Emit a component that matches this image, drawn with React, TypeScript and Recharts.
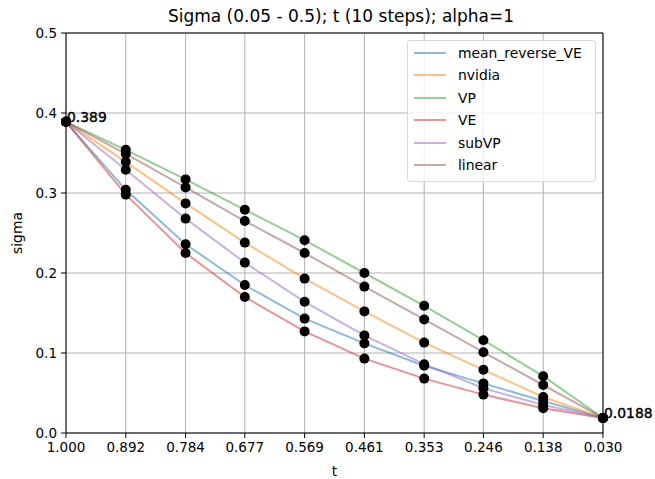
import React from 'react';
import {
  ComposedChart,
  Line,
  Scatter,
  XAxis,
  YAxis,
  CartesianGrid,
  Legend,
  LabelList,
  ReferenceLine,
} from 'recharts';

// time steps, left to right (axis runs from 1.0 down to 0.03)
const tValues = [1.0, 0.892, 0.784, 0.677, 0.569, 0.461, 0.353, 0.246, 0.138, 0.03];

const meanReverseVE = [0.389, 0.304, 0.236, 0.185, 0.143, 0.112, 0.084, 0.062, 0.040, 0.0188];
const nvidia = [0.389, 0.339, 0.287, 0.238, 0.193, 0.152, 0.113, 0.079, 0.045, 0.0188];
const vp = [0.389, 0.354, 0.317, 0.279, 0.241, 0.200, 0.159, 0.116, 0.071, 0.0188];
const ve = [0.389, 0.298, 0.225, 0.170, 0.127, 0.093, 0.068, 0.048, 0.031, 0.0188];
const subVP = [0.389, 0.329, 0.268, 0.213, 0.164, 0.122, 0.086, 0.056, 0.035, 0.0188];
const linear = [0.389, 0.349, 0.307, 0.265, 0.225, 0.183, 0.142, 0.101, 0.060, 0.0188];

const yTicks = [0, 0.1, 0.2, 0.3, 0.4, 0.5];

const series = [
  { key: 'mean_reverse_VE', values: meanReverseVE, color: '#1f77b4' },
  { key: 'nvidia', values: nvidia, color: '#ff7f0e' },
  { key: 'VP', values: vp, color: '#2ca02c' },
  { key: 'VE', values: ve, color: '#d62728' },
  { key: 'subVP', values: subVP, color: '#9467bd' },
  { key: 'linear', values: linear, color: '#8c564b' },
];

const data = tValues.map((t, i) => {
  const row: Record<string, number> = { t };
  series.forEach((s) => {
    row[s.key] = s.values[i];
  });
  return row;
});

const FONT = '"DejaVu Sans", sans-serif';

const blackDot = (props: any) => <circle cx={props.cx} cy={props.cy} r={5} fill="#000" />;

// only the first and last sigma get printed next to their point
const endLabel = (props: any) => {
  const { x, y, value, index } = props;
  if (index !== 0 && index !== tValues.length - 1) return null;
  return (
    <text x={x + 1} y={y} fontSize={13.9} fontFamily={FONT} fill="#000" stroke="#000" strokeWidth={0.4}>
      {String(value)}
    </text>
  );
};

const legendBox = () => (
  <div
    style={{
      position: 'relative',
      width: 187,
      height: 140,
      border: '1px solid #d8d8d8',
      borderRadius: 3,
      background: 'rgba(255,255,255,0.8)',
      fontFamily: FONT,
      fontSize: 13.9,
      color: '#000',
    }}
  >
    {series.map((s, i) => (
      <div
        key={s.key}
        style={{ position: 'absolute', top: 1 + i * 22.4, left: 0, height: 22, display: 'flex', alignItems: 'center' }}
      >
        <div style={{ marginLeft: 6, width: 32, height: 2, background: s.color, opacity: 0.5 }} />
        <span style={{ marginLeft: 12, whiteSpace: 'nowrap' }}>{s.key}</span>
      </div>
    ))}
  </div>
);

const sigmaLabel = (props: any) => {
  const vb = props.viewBox;
  const cy = vb.y + vb.height / 2;
  return (
    <text x={22} y={cy} transform={`rotate(-90, 22, ${cy})`} textAnchor="middle" fontSize={13.9} fontFamily={FONT} fill="#000">
      sigma
    </text>
  );
};

export default function App() {
  return (
    <div style={{ position: 'absolute', left: 0, top: 0, width: 655, height: 479, background: '#fff' }}>
      <div
        style={{
          position: 'absolute',
          left: 66,
          width: 550,
          top: 6,
          textAlign: 'center',
          fontFamily: FONT,
          fontSize: 17,
          color: '#000',
          lineHeight: '20px',
        }}
      >
        Sigma (0.05 - 0.5); t (10 steps); alpha=1
      </div>
      <ComposedChart width={655} height={479} data={data} margin={{ top: 33, right: 52, left: 0, bottom: 0 }}>
        <CartesianGrid stroke="#b0b0b0" strokeWidth={1} />
        <XAxis
          dataKey="t"
          type="number"
          domain={[0.03, 1]}
          reversed
          ticks={tValues}
          tickFormatter={(v: number) => v.toFixed(3)}
          height={46}
          stroke="#000"
          tickSize={5}
          tickMargin={4}
          tick={{ fill: '#000', fontSize: 13.5, fontFamily: FONT }}
          interval={0}
          label={{ value: 't', position: 'insideBottom', offset: 3, fill: '#000', fontSize: 13.9, fontFamily: FONT }}
        />
        <YAxis
          type="number"
          domain={[0, 0.5]}
          ticks={yTicks}
          tickFormatter={(v: number) => v.toFixed(1)}
          width={66}
          stroke="#000"
          tickSize={5}
          tickMargin={4}
          tick={{ fill: '#000', fontSize: 13.5, fontFamily: FONT }}
          interval={0}
          label={sigmaLabel}
        />
        <ReferenceLine y={0.5} stroke="#000" strokeWidth={1} ifOverflow="visible" />
        <ReferenceLine x={0.03} stroke="#000" strokeWidth={1} ifOverflow="visible" />
        {series.map((s) => (
          <Scatter key={`pts-${s.key}`} dataKey={s.key} shape={blackDot} isAnimationActive={false} legendType="none" />
        ))}
        {series.map((s) => (
          <Line
            key={s.key}
            dataKey={s.key}
            type="linear"
            stroke={s.color}
            strokeOpacity={0.5}
            strokeWidth={2}
            dot={false}
            activeDot={false}
            isAnimationActive={false}
          >
            {s.key === 'linear' && <LabelList dataKey="linear" content={endLabel} />}
          </Line>
        ))}
        <Legend
          layout="vertical"
          align="center"
          verticalAlign="middle"
          content={legendBox}
          wrapperStyle={{ position: 'absolute', top: 40, left: 407, width: 189, height: 142 }}
        />
      </ComposedChart>
    </div>
  );
}
